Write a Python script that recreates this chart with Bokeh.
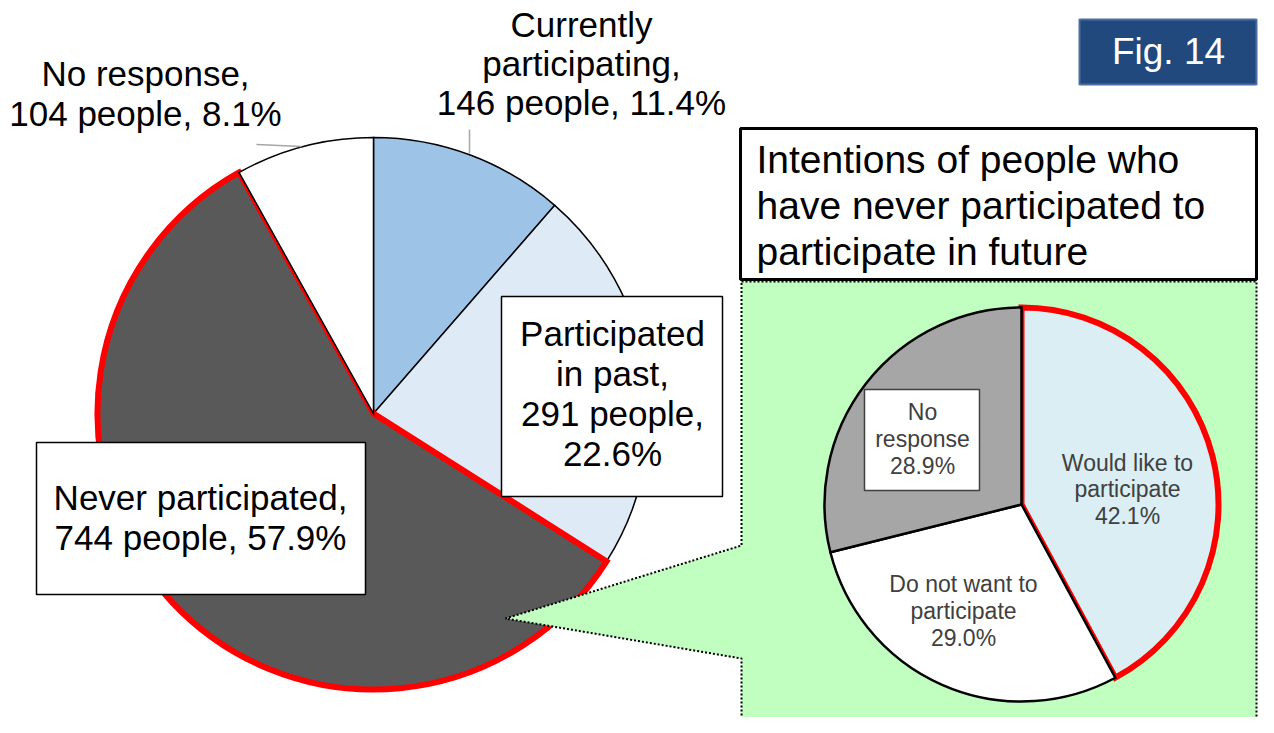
import numpy as np
from bokeh.plotting import figure
from bokeh.models import Range1d
from bokeh.core.properties import value
from bokeh.embed import file_html
from bokeh.resources import INLINE

# ---------------- data ----------------
main_categories = ["Currently participating", "Participated in past", "Never participated", "No response"]
main_people = [146, 291, 744, 104]
main_percent = [11.4, 22.6, 57.9, 8.1]

inset_categories = ["Would like to participate", "Do not want to participate", "No response"]
inset_percent = [42.1, 29.0, 28.9]

title_lines = ["Intentions of people who", "have never participated to", "participate in future"]
fig_label = "Fig. 14"

# ---------------- styles ----------------
main_colors = ["#9DC3E6", "#DEEBF7", "#595959", "#FFFFFF"]
main_line_colors = ["black", "black", "#FF0000", "black"]
main_line_widths = [1.5, 1.5, 6, 1.5]
inset_colors = ["#DAEEF3", "#FFFFFF", "#A6A6A6"]
inset_line_colors = ["#FF0000", "black", "black"]
inset_line_widths = [6, 2.5, 2.5]
FONT = value("Liberation Sans")

W, H = 1258, 717
TOP = 733  # data y = TOP - screen y


def Y(py):
    return TOP - py


p = figure(width=W, height=H, x_range=Range1d(0, W), y_range=Range1d(TOP - H, TOP),
           output_backend="svg", toolbar_location=None, x_axis_type=None, y_axis_type=None,
           min_border=0, outline_line_color=None, background_fill_color="white",
           border_fill_color="white")
p.xgrid.visible = False
p.ygrid.visible = False


def pie_angles(vals):
    v = np.array(vals, dtype=float)
    cum = np.concatenate([[0.0], np.cumsum(v) / v.sum()])
    start = np.pi / 2 - 2 * np.pi * cum[:-1]
    end = np.pi / 2 - 2 * np.pi * cum[1:]
    return start, end


# ---------------- main pie ----------------
cx, cy, r = 373, 413, 276
s, e = pie_angles(main_percent)
for i in range(len(main_percent)):
    p.wedge(x=cx, y=Y(cy), radius=r, start_angle=s[i], end_angle=e[i], direction="clock",
            fill_color=main_colors[i], line_color=main_line_colors[i], line_width=main_line_widths[i],
            line_join="miter")

# leader lines
p.line([469, 469], [Y(129), Y(153)], line_color="#A6A6A6", line_width=1.5)
p.line([256, 301], [Y(144), Y(146)], line_color="#A6A6A6", line_width=1.5)

# ---------------- callout (green) ----------------
gx0, gx1, gtop, gbot = 741, 1256, 281, 745
tip = (505, 618)
xs = [gx0, gx1, gx1, gx0, gx0, tip[0], gx0, gx0]
ys = [gtop, gtop, gbot, gbot, 658, tip[1], 545, gtop]
p.patch(xs, [Y(v) for v in ys], fill_color="#C0FFC0", line_color="black", line_dash="2 2", line_width=2)


def put(lines, x, baselines, size, color="black", align="center"):
    # empirical correction so the glyph baseline lands on the requested screen row
    k = 0.42 * size
    p.text(x=[x] * len(lines), y=[Y(b) + k for b in baselines], text=lines, text_font=FONT,
           text_font_size=f"{size}px", text_color=color, text_align=align, text_baseline="alphabetic")


# title box
p.quad(left=740, right=1256, top=Y(128), bottom=Y(279), fill_color="white", line_color="black", line_width=3)
put(title_lines, 756, [175, 221, 267], 39, align="left")

# fig label
p.quad(left=1079, right=1256, top=Y(19), bottom=Y(84), fill_color="#21497D", line_color="#4A6EA2", line_width=2)
put([fig_label], 1168, [67], 37, color="white")

# ---------------- inset pie ----------------
icx, icy, ir = 1021, 504, 197
s2, e2 = pie_angles(inset_percent)
for i in range(len(inset_percent)):
    p.wedge(x=icx, y=Y(icy), radius=ir, start_angle=s2[i], end_angle=e2[i], direction="clock",
            fill_color=inset_colors[i], line_color=inset_line_colors[i], line_width=inset_line_widths[i],
            line_join="miter")


# ---------------- labels ----------------
def main_label(i, name_split):
    words = main_categories[i].split()
    lines = [" ".join(words[:name_split]), " ".join(words[name_split:])]
    lines = [l for l in lines if l]
    lines[-1] += ","
    return lines


lbl_cur = main_label(0, 1) + [f"{main_people[0]} people, {main_percent[0]}%"]
lbl_past = main_label(1, 1) + [f"{main_people[1]} people,", f"{main_percent[1]}%"]
lbl_never = main_label(2, 2) + [f"{main_people[2]} people, {main_percent[2]}%"]
lbl_nr = main_label(3, 2) + [f"{main_people[3]} people, {main_percent[3]}%"]

# boxes for main labels
p.quad(left=501, right=722, top=Y(296), bottom=Y(496), fill_color="white", line_color="black", line_width=1.5)
p.quad(left=36, right=365, top=Y(442), bottom=Y(594), fill_color="white", line_color="black", line_width=1.5)

put(lbl_cur, 581, [39, 78, 117], 35)
put(lbl_nr, 145, [88, 128], 35)
put(lbl_past, 612, [348, 388, 428, 468], 35)
put(lbl_never, 200, [512, 552], 35)

# inset labels
p.quad(left=864, right=979, top=Y(389), bottom=Y(490), fill_color="white", line_color="#404040", line_width=1.5)
inr = inset_categories[2].split() + [f"{inset_percent[2]}%"]
wl_words = inset_categories[0].split()
iwl = [" ".join(wl_words[:3]), " ".join(wl_words[3:]), f"{inset_percent[0]}%"]
dn_words = inset_categories[1].split()
idn = [" ".join(dn_words[:4]), " ".join(dn_words[4:]), f"{inset_percent[1]}%"]
put(inr, 922, [421, 448, 475], 23, "#404040")
put(iwl, 1127, [472, 498, 525], 23, "#404040")
put(idn, 963, [593, 620, 647], 23, "#404040")

open("out.html", "w").write(file_html(p, INLINE))
